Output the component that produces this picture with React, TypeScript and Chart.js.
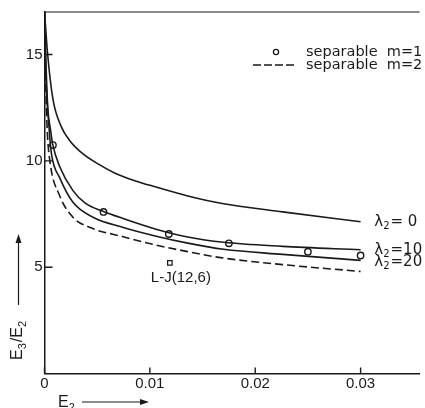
import React, { useEffect, useRef } from "react";
import { Chart, registerables } from "chart.js";

Chart.register(...registerables);

// ---- data ----
const lam0X = [0, 0.0003, 0.0008, 0.0016, 0.0024, 0.0036, 0.0052, 0.0067, 0.0085, 0.0105, 0.0136, 0.017, 0.0226, 0.03];
const lam0Y = [17.0, 15.0, 12.9, 11.6, 10.95, 10.35, 9.82, 9.42, 9.08, 8.78, 8.35, 7.98, 7.6, 7.14];

const lam10X = [0, 0.0001, 0.0003, 0.00058, 0.00077, 0.00145, 0.0027, 0.0039, 0.0056, 0.0074, 0.0105, 0.0136, 0.017, 0.0226, 0.03];
const lam10Y = [17.0, 15.2, 12.6, 11.44, 10.8, 9.72, 8.6, 8.0, 7.62, 7.3, 6.8, 6.42, 6.17, 5.98, 5.82];

const lam20X = [0, 0.0001, 0.00045, 0.00067, 0.00145, 0.0027, 0.0046, 0.0074, 0.0105, 0.0136, 0.017, 0.0226, 0.03];
const lam20Y = [17.0, 14.5, 11.44, 10.3, 9.2, 8.05, 7.35, 6.88, 6.47, 6.13, 5.84, 5.6, 5.32];

const sepM2X = [0, 0.0001, 0.00026, 0.0005, 0.00145, 0.0027, 0.0044, 0.0074, 0.0105, 0.0136, 0.0167, 0.0226, 0.03];
const sepM2Y = [17.0, 14.0, 11.44, 10.03, 8.35, 7.35, 6.85, 6.44, 6.05, 5.73, 5.45, 5.12, 4.8];

const sepM1X = [0.0008, 0.0056, 0.0118, 0.0175, 0.025, 0.03];
const sepM1Y = [10.74, 7.6, 6.56, 6.12, 5.73, 5.55];

const ljX = [0.0119];
const ljY = [5.2];

const xTicks = [0, 0.01, 0.02, 0.03];
const yTicks = [5, 10, 15];

const curveLabels = ["λ2= 0", "λ2=10", "λ2=20"];
const curveLabelX = [0.0313, 0.0313, 0.0313];
const curveLabelY = [7.13, 5.81, 5.25];

const zip = (xs: number[], ys: number[]) => xs.map((x, i) => ({ x, y: ys[i] }));

const INK = "#1a1a1a";
const TICK_FONT = "'Liberation Sans', Arial, sans-serif";
const LEG_FONT = "'DejaVu Sans', sans-serif";

function drawParts(
  ctx: CanvasRenderingContext2D,
  parts: { t: string; sub?: boolean }[],
  x: number,
  y: number,
  size: number,
  family: string,
  measureOnly = false
) {
  let cx = x;
  for (const p of parts) {
    const s = p.sub ? Math.round(size * 0.68) : size;
    ctx.font = `${s}px ${family}`;
    const w = ctx.measureText(p.t).width;
    if (!measureOnly) ctx.fillText(p.t, cx, p.sub ? y + size * 0.28 : y);
    cx += w + (p.sub ? 1 : 0);
  }
  return cx - x;
}

function splitLambda(label: string) {
  return [{ t: label[0] }, { t: label[1], sub: true }, { t: label.slice(2) }];
}

const annotPlugin = {
  id: "annot",
  afterDraw(chart: any) {
    const { ctx, chartArea, scales } = chart;
    const xs = scales.x;
    const ys = scales.y;
    ctx.save();
    ctx.strokeStyle = INK;
    ctx.fillStyle = INK;

    // top frame line
    ctx.lineWidth = 1.1;
    ctx.beginPath();
    ctx.moveTo(chartArea.left, chartArea.top);
    ctx.lineTo(chartArea.right, chartArea.top);
    ctx.stroke();

    // inward tick marks
    ctx.lineWidth = 1.4;
    ctx.beginPath();
    for (const v of xTicks) {
      const px = xs.getPixelForValue(v);
      ctx.moveTo(px, chartArea.bottom);
      ctx.lineTo(px, chartArea.bottom - 6);
    }
    for (const v of yTicks) {
      const py = ys.getPixelForValue(v);
      ctx.moveTo(chartArea.left, py);
      ctx.lineTo(chartArea.left + 8, py);
    }
    ctx.stroke();

    // curve labels
    ctx.textBaseline = "middle";
    ctx.textAlign = "left";
    curveLabels.forEach((lab, i) => {
      const px = xs.getPixelForValue(curveLabelX[i]);
      const py = ys.getPixelForValue(curveLabelY[i]);
      drawParts(ctx, splitLambda(lab), px, py, 15, LEG_FONT);
    });

    // L-J label
    {
      const px = xs.getPixelForValue(ljX[0]);
      const py = ys.getPixelForValue(ljY[0]);
      ctx.font = `15px ${TICK_FONT}`;
      ctx.textAlign = "center";
      ctx.fillText("L-J(12,6)", px + 11, py + 15);
      ctx.textAlign = "left";
    }

    // legend
    ctx.font = `14.5px ${LEG_FONT}`;
    ctx.textBaseline = "middle";
    ctx.fillText("separable  m=1", 306, 52);
    ctx.fillText("separable  m=2", 306, 65);
    ctx.beginPath();
    ctx.lineWidth = 1.3;
    ctx.arc(276, 52, 2.6, 0, Math.PI * 2);
    ctx.stroke();
    ctx.beginPath();
    ctx.lineWidth = 1.4;
    ctx.setLineDash([8, 3]);
    ctx.moveTo(253, 65);
    ctx.lineTo(297, 65);
    ctx.stroke();
    ctx.setLineDash([]);

    // y axis title (rotated) with arrow
    ctx.save();
    ctx.translate(18, 340);
    ctx.rotate(-Math.PI / 2);
    const yParts = [{ t: "E" }, { t: "3", sub: true }, { t: "/" }, { t: "E" }, { t: "2", sub: true }];
    const w = drawParts(ctx, yParts, 0, 0, 16, TICK_FONT, true);
    ctx.textBaseline = "middle";
    drawParts(ctx, yParts, -w / 2, 0, 16, TICK_FONT);
    ctx.restore();
    ctx.beginPath();
    ctx.lineWidth = 1.2;
    ctx.moveTo(18.5, 305);
    ctx.lineTo(18.5, 240);
    ctx.stroke();
    ctx.beginPath();
    ctx.moveTo(18.5, 234);
    ctx.lineTo(15.5, 243);
    ctx.lineTo(21.5, 243);
    ctx.closePath();
    ctx.fill();

    // x axis title with arrow
    ctx.textBaseline = "alphabetic";
    drawParts(ctx, [{ t: "E" }, { t: "2", sub: true }], 58, 407, 16, TICK_FONT);
    ctx.beginPath();
    ctx.moveTo(82, 402);
    ctx.lineTo(142, 402);
    ctx.stroke();
    ctx.beginPath();
    ctx.moveTo(149, 402);
    ctx.lineTo(140, 399);
    ctx.lineTo(140, 405);
    ctx.closePath();
    ctx.fill();

    ctx.restore();
  },
};

export default function App() {
  const ref = useRef<HTMLCanvasElement | null>(null);
  useEffect(() => {
    if (!ref.current) return;
    const lineBase = {
      type: "line" as const,
      borderColor: INK,
      borderWidth: 1.6,
      pointRadius: 0,
      fill: false,
      cubicInterpolationMode: "monotone" as const,
    };
    const chart = new Chart(ref.current, {
      type: "line",
      data: {
        datasets: [
          { ...lineBase, label: "λ2=0", data: zip(lam0X, lam0Y) },
          { ...lineBase, label: "λ2=10", data: zip(lam10X, lam10Y) },
          { ...lineBase, label: "λ2=20", data: zip(lam20X, lam20Y) },
          { ...lineBase, label: "separable m=2", data: zip(sepM2X, sepM2Y), borderDash: [8, 4] },
          {
            type: "line",
            label: "separable m=1",
            data: zip(sepM1X, sepM1Y),
            showLine: false,
            pointRadius: 3.2,
            pointBorderWidth: 1.4,
            pointBorderColor: INK,
            pointBackgroundColor: "#fff",
          },
          {
            type: "line",
            label: "L-J(12,6)",
            data: zip(ljX, ljY),
            showLine: false,
            pointStyle: "rect",
            pointRadius: 3.2,
            pointBorderWidth: 1.2,
            pointBorderColor: INK,
            pointBackgroundColor: "#fff",
          },
        ] as any,
      },
      options: {
        responsive: false,
        animation: false,
        layout: { padding: { top: 12, left: 0, right: 0, bottom: 0 } },
        plugins: { legend: { display: false }, tooltip: { enabled: false } },
        scales: {
          x: {
            type: "linear",
            min: 0,
            max: 0.0356,
            afterFit: (s: any) => {
              s.height = 34.5;
            },
            afterBuildTicks: (s: any) => {
              s.ticks = xTicks.map((v) => ({ value: v }));
            },
            ticks: {
              autoSkip: false,
              maxRotation: 0,
              padding: 1,
              color: INK,
              font: { family: TICK_FONT, size: 15 },
              callback: (v: any) => (Number(v) === 0 ? "0" : Number(v).toFixed(2)),
            },
            grid: { display: false, drawTicks: false },
            border: { display: true, color: INK, width: 1.5 },
          },
          y: {
            type: "linear",
            min: 0,
            max: 17,
            afterFit: (s: any) => {
              s.width = 44.5;
            },
            afterBuildTicks: (s: any) => {
              s.ticks = yTicks.map((v) => ({ value: v }));
            },
            ticks: {
              padding: 2,
              color: INK,
              font: { family: TICK_FONT, size: 15 },
              callback: (v: any) => String(v),
            },
            grid: { display: false, drawTicks: false },
            border: { display: true, color: INK, width: 1.5 },
          },
        },
      } as any,
      plugins: [annotPlugin as any],
    });
    return () => chart.destroy();
  }, []);
  return (
    <div style={{ position: "absolute", left: 0, top: 0, width: 425, height: 408, background: "#fff" }}>
      <canvas ref={ref} width={425} height={408} style={{ display: "block" }} />
    </div>
  );
}
